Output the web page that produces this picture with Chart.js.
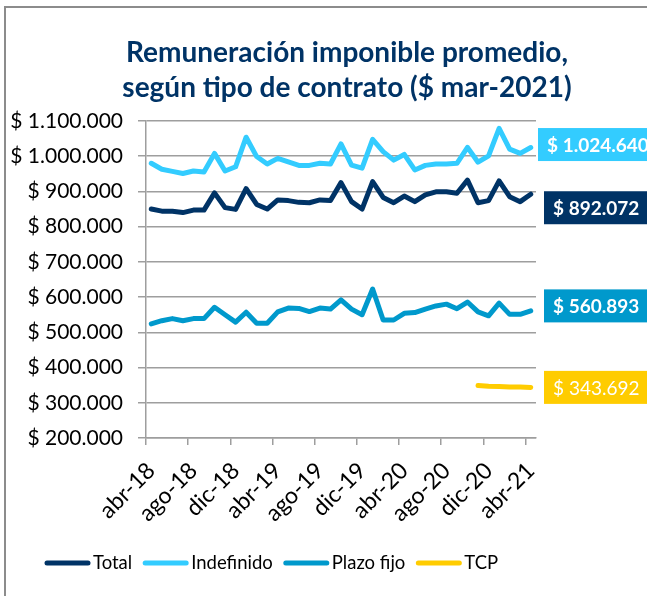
<!DOCTYPE html>
<html>
<head>
<meta charset="utf-8">
<script src="https://cdn.jsdelivr.net/npm/chart.js@4.4.0/dist/chart.umd.min.js"></script>
<style>
  html, body { margin: 0; padding: 0; background: #fff; }
  #wrap { width: 647px; height: 596px; position: relative; }
</style>
</head>
<body>
<div id="wrap"><canvas id="myChart"></canvas></div>
<script>
// Datos
const categorias = [
  'abr-18','may-18','jun-18','jul-18','ago-18','sep-18','oct-18','nov-18','dic-18',
  'ene-19','feb-19','mar-19','abr-19','may-19','jun-19','jul-19','ago-19','sep-19','oct-19','nov-19','dic-19',
  'ene-20','feb-20','mar-20','abr-20','may-20','jun-20','jul-20','ago-20','sep-20','oct-20','nov-20','dic-20',
  'ene-21','feb-21','mar-21','abr-21'
];
const total = [850000,844000,844000,840000,847000,847000,896000,854000,849000,908000,863000,850000,876000,874000,869000,868000,876000,874000,925000,871000,850000,928000,883000,868000,887000,871000,890000,899000,899000,895000,932000,868000,874000,930000,885000,871000,892072];
const indefinido = [980000,963000,957000,951000,958000,955000,1008000,958000,970000,1054000,999000,978000,994000,984000,974000,974000,980000,978000,1035000,975000,966000,1048000,1013000,989000,1005000,961000,974000,978000,978000,980000,1025000,983000,1001000,1079000,1020000,1008000,1024640];
const plazoFijo = [524000,533000,539000,533000,539000,539000,571000,550000,529000,557000,526000,526000,558000,569000,568000,559000,569000,566000,592000,566000,550000,623000,535000,535000,554000,556000,566000,575000,580000,567000,586000,558000,547000,583000,551000,551000,560893];
const tcp = [null,null,null,null,null,null,null,null,null,null,null,null,null,null,null,null,null,null,null,null,null,null,null,null,null,null,null,null,null,null,null,349000,347000,346000,345000,344500,343692];
const ticksY = [200000,300000,400000,500000,600000,700000,800000,900000,1000000,1100000];
const titulo = ['Remuneración imponible promedio,', 'según tipo de contrato ($ mar-2021)'];

const fmt = n => '$ ' + Math.round(n).toString().replace(/\B(?=(\d{3})+(?!\d))/g, '.');
const GRIS = '#9e9e9e';

// titulo (dibujado aparte para poder correr el centro)
const tituloPlugin = {
  id: 'tituloPlugin',
  afterDraw(chart) {
    const ctx = chart.ctx;
    ctx.save();
    ctx.font = 'bold 28px Lato';
    ctx.fillStyle = '#003366';
    ctx.textAlign = 'center';
    ctx.textBaseline = 'middle';
    titulo.forEach((t, i) => ctx.fillText(t, 347, 53 + i * 35));
    ctx.restore();
  }
};

// cajas con el ultimo valor de cada serie
const cajas = [
  { bg: '#003366', x: 544, dy: 13.5, bold: true },
  { bg: '#33CCFF', x: 538, dy: -3, bold: true },
  { bg: '#0099CC', x: 544, dy: -5, bold: true },
  { bg: '#FFCC00', x: 544, dy: 0, bold: false }
];
const etiquetas = {
  id: 'etiquetas',
  afterDatasetsDraw(chart) {
    const ctx = chart.ctx;
    ctx.save();
    chart.data.datasets.forEach((ds, i) => {
      const meta = chart.getDatasetMeta(i);
      const last = ds.data.length - 1;
      const pt = meta.data[last];
      const txt = fmt(ds.data[last]);
      const c = cajas[i];
      ctx.font = (c.bold ? 'bold ' : '') + '19px Lato';
      const w = ctx.measureText(txt).width + 18;
      const h = 33;
      const y = pt.y + c.dy;
      ctx.fillStyle = c.bg;
      ctx.fillRect(c.x, y - h / 2, w, h);
      ctx.fillStyle = '#fff';
      ctx.textBaseline = 'middle';
      ctx.textAlign = 'left';
      ctx.fillText(txt, c.x + 9, y + 1);
    });
    ctx.restore();
  }
};

// leyenda dibujada a mano (linea corta + texto pegado)
const leyenda = {
  id: 'leyenda',
  afterDraw(chart) {
    const ctx = chart.ctx;
    ctx.save();
    ctx.font = '18.5px Lato';
    ctx.textBaseline = 'middle';
    ctx.textAlign = 'left';
    ctx.lineCap = 'round';
    ctx.lineWidth = 5;
    const y = 563;
    let x = 47;
    chart.data.datasets.forEach(ds => {
      ctx.strokeStyle = ds.borderColor;
      ctx.beginPath();
      ctx.moveTo(x, y);
      ctx.lineTo(x + 41, y);
      ctx.stroke();
      ctx.fillStyle = '#000';
      ctx.fillText(ds.label, x + 46, y);
      x += 46 + ctx.measureText(ds.label).width + 13;
    });
    ctx.restore();
  }
};

const marco = {
  id: 'marco',
  beforeDraw(chart) {
    const ctx = chart.ctx;
    ctx.save();
    ctx.fillStyle = '#8c8c8c';
    ctx.fillRect(4, 6, chart.width - 4, 2);
    ctx.fillRect(4, 6, 2, chart.height - 6);
    ctx.restore();
  }
};

const linea = (label, data, color) => ({
  label, data,
  borderColor: color,
  backgroundColor: color,
  borderWidth: 5,
  pointRadius: 0,
  tension: 0,
  borderCapStyle: 'round',
  borderJoinStyle: 'round'
});

const ctx = document.getElementById('myChart').getContext('2d');
const myChart = new Chart(ctx, {
  type: 'line',
  data: {
    labels: categorias,
    datasets: [
      linea('Total', total, '#003366'),
      linea('Indefinido', indefinido, '#33CCFF'),
      linea('Plazo fijo', plazoFijo, '#0099CC'),
      linea('TCP', tcp, '#FFCC00')
    ]
  },
  options: {
    responsive: true,
    maintainAspectRatio: false,
    animation: false,
    layout: { padding: { left: 0, right: 111, top: 121, bottom: 48 } },
    plugins: {
      title: { display: false },
      legend: { display: false },
      tooltip: { enabled: false }
    },
    scales: {
      x: {
        offset: true,
        grid: {
          offset: true,
          drawOnChartArea: false,
          drawTicks: true,
          tickLength: 7,
          lineWidth: 1.5,
          color: c => (c.index % 4 === 0 ? GRIS : 'rgba(0,0,0,0)')
        },
        border: { color: GRIS, width: 1.5 },
        ticks: {
          autoSkip: false,
          minRotation: 45,
          maxRotation: 45,
          padding: 12,
          color: '#000',
          font: { family: 'Lato', size: 23 },
          callback: (v, i) => (i % 4 === 0 ? categorias[i] : '')
        },
        afterFit: s => { s.height = 110; }
      },
      y: {
        min: ticksY[0],
        max: ticksY[ticksY.length - 1],
        afterBuildTicks: s => { s.ticks = ticksY.map(v => ({ value: v })); },
        grid: { color: GRIS, lineWidth: 1.5, tickLength: 8 },
        border: { color: GRIS, width: 1.5 },
        ticks: {
          color: '#000',
          padding: 15,
          font: { family: 'Lato', size: 21 },
          callback: v => fmt(v)
        },
        afterFit: s => { s.width = 146; }
      }
    }
  },
  plugins: [marco, etiquetas, leyenda, tituloPlugin]
});
</script>
</body>
</html>
